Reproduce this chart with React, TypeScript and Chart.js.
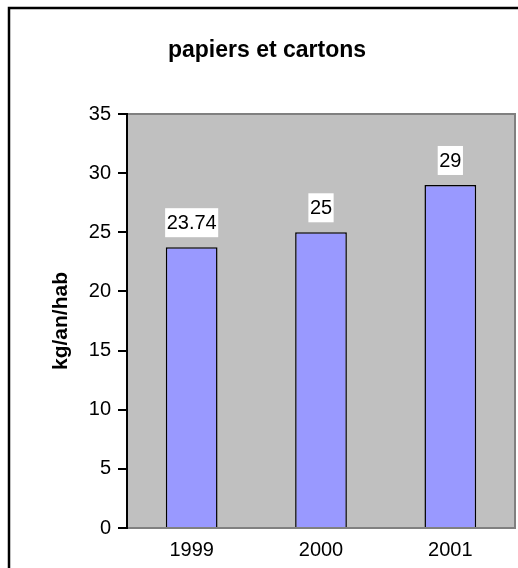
import React, { useEffect, useRef } from "react";
import { Chart, registerables } from "chart.js";

Chart.register(...registerables);

const titleText = "papiers et cartons";
const yAxisTitle = "kg/an/hab";
const categories = ["1999", "2000", "2001"];
const values = [23.74, 25, 29];
const valueLabels = ["23.74", "25", "29"];
const yMin = 0;
const yMax = 35;
const yStep = 5;

const FONT = "'Liberation Sans', Arial, sans-serif";

const framePlugin = {
  id: "framePlugin",
  beforeDraw(chart: any) {
    const { ctx, chartArea } = chart;
    ctx.save();
    ctx.fillStyle = "#ffffff";
    ctx.fillRect(0, 0, chart.width, chart.height);
    // outer frame
    ctx.strokeStyle = "#000000";
    ctx.lineWidth = 2.5;
    ctx.strokeRect(9, 8, 700, 700);
    // plot area
    ctx.fillStyle = "#c0c0c0";
    ctx.fillRect(chartArea.left, chartArea.top, chartArea.right - chartArea.left, chartArea.bottom - chartArea.top);
    ctx.strokeStyle = "#808080";
    ctx.lineWidth = 2;
    ctx.strokeRect(chartArea.left, chartArea.top, chartArea.right - chartArea.left, chartArea.bottom - chartArea.top);
    // title
    ctx.fillStyle = "#000000";
    ctx.font = `bold 23px ${FONT}`;
    ctx.textAlign = "center";
    ctx.textBaseline = "middle";
    ctx.fillText(titleText, 267, 51);
    ctx.restore();
  },
};

const labelPlugin = {
  id: "labelPlugin",
  afterDatasetsDraw(chart: any) {
    const { ctx } = chart;
    const meta = chart.getDatasetMeta(0);
    ctx.save();
    ctx.font = `20px ${FONT}`;
    ctx.textAlign = "center";
    ctx.textBaseline = "middle";
    meta.data.forEach((bar: any, i: number) => {
      const txt = valueLabels[i];
      const w = ctx.measureText(txt).width + 3;
      const h = 29;
      const bottom = bar.y - 10;
      ctx.fillStyle = "#ffffff";
      ctx.fillRect(bar.x - w / 2, bottom - h, w, h);
      ctx.fillStyle = "#000000";
      ctx.fillText(txt, bar.x, bottom - h / 2 + 1);
    });
    ctx.restore();
  },
};

export default function App() {
  const canvasRef = useRef<HTMLCanvasElement | null>(null);

  useEffect(() => {
    if (!canvasRef.current) return;
    const chart = new Chart(canvasRef.current, {
      type: "bar",
      data: {
        labels: categories,
        datasets: [
          {
            data: values,
            backgroundColor: "#9999ff",
            borderColor: "#000000",
            borderWidth: 1.5,
            barPercentage: 0.4,
            categoryPercentage: 1,
          },
        ],
      },
      options: {
        animation: false,
        responsive: false,
        maintainAspectRatio: false,
        layout: { padding: { left: 45, right: 3, top: 114, bottom: 0 } },
        plugins: {
          legend: { display: false },
          title: { display: false },
          tooltip: { enabled: false },
        },
        scales: {
          x: {
            grid: { display: false, drawTicks: false },
            border: { display: false },
            ticks: {
              color: "#000000",
              font: { family: FONT, size: 20 },
              padding: 10,
              maxRotation: 0,
            },
            afterFit: (scale: any) => {
              scale.height = 40;
            },
          },
          y: {
            min: yMin,
            max: yMax,
            grid: {
              drawOnChartArea: false,
              drawTicks: true,
              tickLength: 9,
              color: "#000000",
              lineWidth: 2,
            },
            border: { display: true, color: "#000000", width: 2 },
            ticks: {
              stepSize: yStep,
              color: "#000000",
              font: { family: FONT, size: 20 },
              padding: 7,
            },
            title: {
              display: true,
              text: yAxisTitle,
              color: "#000000",
              font: { family: FONT, size: 21, weight: "bold" },
              padding: { top: 4, bottom: 0 },
            },
            afterFit: (scale: any) => {
              scale.width = 82;
            },
          },
        },
      },
      plugins: [framePlugin, labelPlugin],
    });
    return () => chart.destroy();
  }, []);

  return (
    <div style={{ position: "absolute", left: 0, top: 0, width: 518, height: 568 }}>
      <canvas ref={canvasRef} width={518} height={568} />
    </div>
  );
}
